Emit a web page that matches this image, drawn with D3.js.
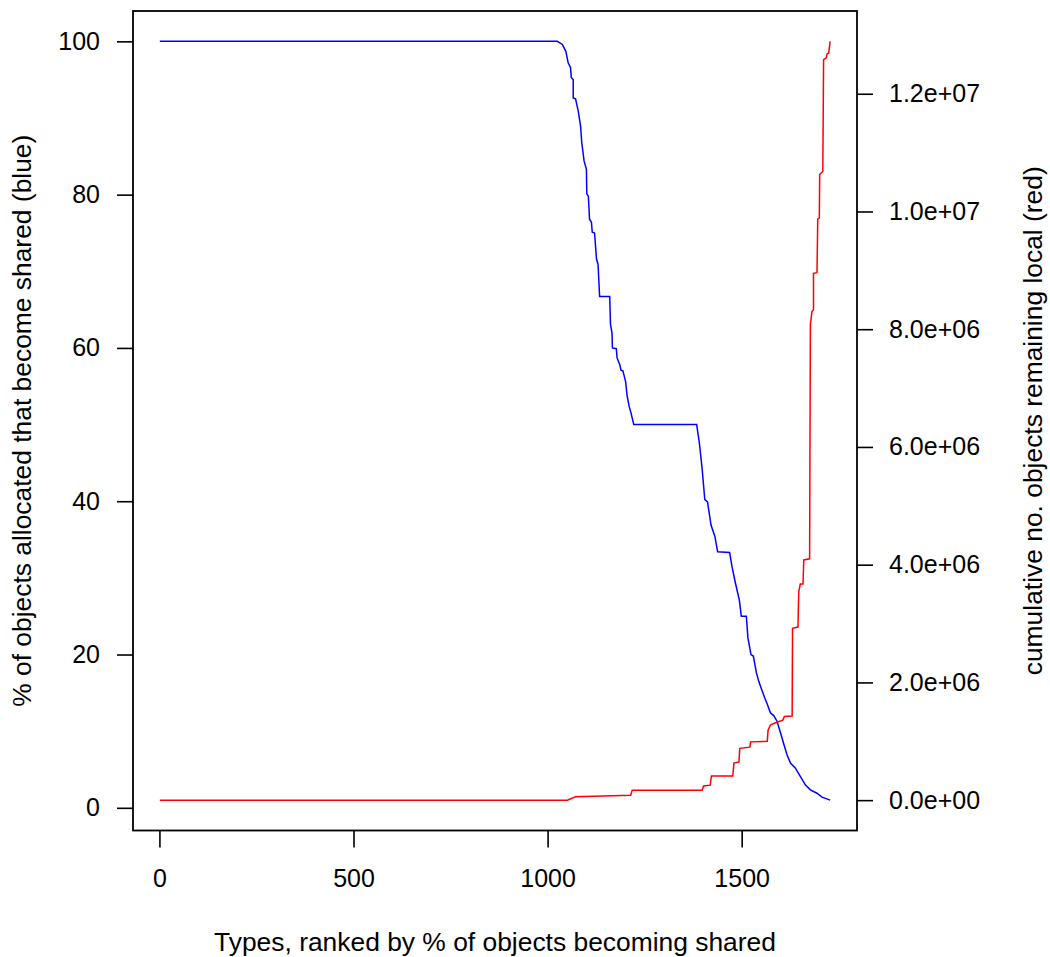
<!DOCTYPE html>
<html>
<head>
<meta charset="utf-8">
<script src="https://cdnjs.cloudflare.com/ajax/libs/d3/7.8.5/d3.min.js"></script>
<style>
  body { margin:0; background:#fff; }
  svg { display:block; }
  text { font-family:"Liberation Sans", Arial, Helvetica, sans-serif; fill:#000; }
</style>
</head>
<body>
<svg></svg>
<script>
// blue series: type rank vs % of objects that become shared
var sharedRank = [1,1025,1038,1047,1053,1059,1061,1066,1066,1072,1079,1085,1088,1094,1100,1101,1105,1108,1113,1115,
  1121,1126,1130,1134,1160,1162,1166,1167,1177,1179,1186,1189,1194,1201,1205,1210,1215,1222,1384,1391,
  1398,1405,1412,1421,1431,1438,1469,1475,1484,1494,1499,1512,1516,1524,1530,1538,1544,1551,1559,1566,
  1574,1583,1591,1600,1608,1617,1626,1638,1651,1664,1677,1694,1707,1728];
var sharedPct = [100,100,99.6,98.7,97.2,96.6,95.3,95.0,92.6,92.5,90.9,88.9,86.8,84.4,83.3,80.1,79.8,76.8,76.4,75.1,
  75.0,71.6,70.9,66.7,66.7,63.1,61.9,60.0,59.9,58.7,57.8,57.1,57.0,55.6,53.7,52.4,51.5,50.0,50.0,47.6,
  44.3,40.2,39.9,36.9,35.4,33.4,33.3,31.5,29.3,27.1,25.0,25.0,22.2,20.0,19.8,17.6,16.5,15.5,14.4,13.5,
  12.4,12.0,11.3,9.8,8.4,6.9,5.8,5.2,4.1,3.0,2.35,1.9,1.4,1.0];

// red series: type rank vs cumulative no. objects remaining local
var localRank = [1,1051,1072,1214,1218,1398,1402,1419,1422,1477,1480,1493,1495,1521,1523,1566,1568,1574,1587,1606,
  1610,1630,1631,1645,1647,1651,1658,1660,1675,1677,1681,1685,1685,1694,1696,1700,1701,1709,1711,1718,
  1720,1724,1728];
var localCount = [0,0,56000,85000,170000,170000,240000,255000,410000,410000,630000,650000,880000,900000,990000,1000000,1190000,1275000,1315000,1360000,
  1420000,1430000,2920000,2940000,3540000,3670000,3670000,4080000,4100000,8080000,8300000,8330000,8950000,8960000,9870000,9890000,10630000,10680000,12580000,12610000,
  12680000,12690000,12890000];

var xTicks = [0,500,1000,1500];
var leftTicks = [0,20,40,60,80,100];
var rightTicks = [0,2e6,4e6,6e6,8e6,1e7,1.2e7];
var rightTickLabels = ["0.0e+00","2.0e+06","4.0e+06","6.0e+06","8.0e+06","1.0e+07","1.2e+07"];

var drawGraph = function()
{
  var screen = {width:1050, height:957};

  var svg = d3.select("svg")
              .attr("width",screen.width)
              .attr("height",screen.height);

  var box = {left:133, right:857, top:11, bottom:830.5};

  // R style 4% padding on each axis
  var pad = function(lo,hi) { var r = hi-lo; return [lo-0.04*r, hi+0.04*r]; };

  var xScale = d3.scaleLinear()
                 .domain(pad(1,1728))
                 .range([box.left,box.right]);

  var yLeft = d3.scaleLinear()
                .domain(pad(1,100))
                .range([box.bottom,box.top]);

  var yRight = d3.scaleLinear()
                 .domain(pad(0,12890000))
                 .range([box.bottom,box.top]);

  var blue = sharedRank.map(function(d,i) {return [d,sharedPct[i]]});
  var red = localRank.map(function(d,i) {return [d,localCount[i]]});

  svg.append("path")
     .datum(blue)
     .attr("fill","none")
     .attr("stroke","#0000ff")
     .attr("stroke-width",1.5)
     .attr("d",d3.line().x(function(d) {return xScale(d[0])}).y(function(d) {return yLeft(d[1])}));

  svg.append("path")
     .datum(red)
     .attr("fill","none")
     .attr("stroke","#ff0000")
     .attr("stroke-width",1.5)
     .attr("d",d3.line().x(function(d) {return xScale(d[0])}).y(function(d) {return yRight(d[1])}));

  // frame
  svg.append("rect")
     .attr("x",box.left)
     .attr("y",box.top)
     .attr("width",box.right-box.left)
     .attr("height",box.bottom-box.top)
     .attr("fill","none")
     .attr("stroke","#000")
     .attr("stroke-width",1.8);

  var xAxis = d3.axisBottom(xScale).tickValues(xTicks).tickSize(17).tickPadding(22).tickFormat(d3.format("d"));
  var lAxis = d3.axisLeft(yLeft).tickValues(leftTicks).tickSize(16).tickPadding(17).tickFormat(d3.format("d"));
  var rAxis = d3.axisRight(yRight).tickValues(rightTicks).tickSize(16).tickPadding(16)
                .tickFormat(function(d,i) {return rightTickLabels[i]});

  var gx = svg.append("g").attr("transform","translate(0,"+box.bottom+")").call(xAxis);
  var gl = svg.append("g").attr("transform","translate("+box.left+",0)").call(lAxis);
  var gr = svg.append("g").attr("transform","translate("+box.right+",0)").call(rAxis);

  [gx,gl,gr].forEach(function(g)
  {
    g.select(".domain").remove();
    g.selectAll(".tick line").attr("stroke","#000").attr("stroke-width",1.6);
    g.selectAll(".tick text").attr("font-size",25).attr("font-family","Liberation Sans, Arial, sans-serif");
  });

  // titles
  svg.append("text")
     .attr("x",(box.left+box.right)/2)
     .attr("y",951)
     .attr("text-anchor","middle")
     .attr("font-size",26.4)
     .text("Types, ranked by % of objects becoming shared");

  svg.append("text")
     .attr("transform","translate(31,"+((box.top+box.bottom)/2)+") rotate(-90)")
     .attr("text-anchor","middle")
     .attr("font-size",26.4)
     .text("% of objects allocated that become shared (blue)");

  svg.append("text")
     .attr("transform","translate(1042,"+((box.top+box.bottom)/2)+") rotate(-90)")
     .attr("text-anchor","middle")
     .attr("font-size",26.4)
     .text("cumulative no. objects remaining local (red)");
}

drawGraph();
</script>
</body>
</html>
